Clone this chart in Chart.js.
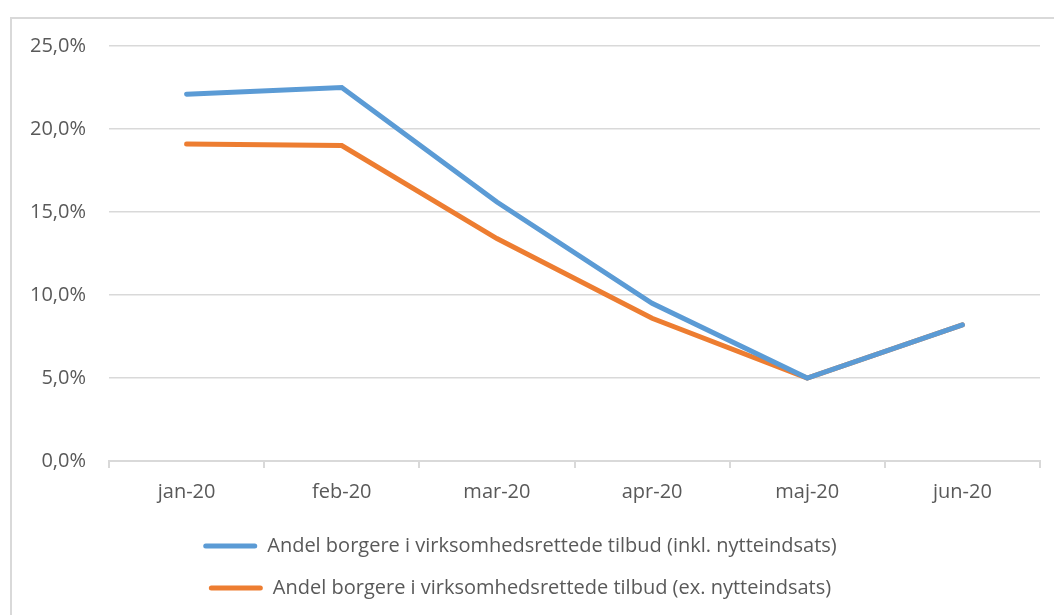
<!DOCTYPE html>
<html>
<head>
<meta charset="utf-8">
<script src="https://cdn.jsdelivr.net/npm/chart.js@4/dist/chart.umd.min.js"></script>
<style>
  html, body { margin: 0; padding: 0; background: #fff; }
  #wrap { position: relative; width: 1054px; height: 615px; overflow: hidden; }
  #frame { position: absolute; left: 10px; top: 17px; width: 1100px; height: 700px; border: 2px solid #d9d9d9; box-sizing: border-box; }
  canvas { position: absolute; left: 0; top: 0; }
</style>
</head>
<body>
<div id="wrap">
  <div id="frame"></div>
  <canvas id="chart" width="1054" height="615"></canvas>
</div>
<script>
// maaneder og andele (i procent)
const maaneder = ['jan-20', 'feb-20', 'mar-20', 'apr-20', 'maj-20', 'jun-20'];
const inklNytte = [22.1, 22.5, 15.6, 9.5, 5.0, 8.2];
const exNytte = [19.1, 19.0, 13.4, 8.6, 5.0, 8.2];
const serieNavne = [
  'Andel borgere i virksomhedsrettede tilbud (inkl. nytteindsats)',
  'Andel borgere i virksomhedsrettede tilbud (ex. nytteindsats)'
];

const tekstFarve = '#595959';
const font = { family: 'Open Sans', size: 20 };

new Chart(document.getElementById('chart'), {
  type: 'line',
  data: {
    labels: maaneder,
    datasets: [
      { label: serieNavne[0], data: inklNytte, borderColor: '#5b9bd5', backgroundColor: '#5b9bd5',
        borderWidth: 5, borderCapStyle: 'round', pointRadius: 0, tension: 0 },
      { label: serieNavne[1], data: exNytte, borderColor: '#ed7d31', backgroundColor: '#ed7d31',
        borderWidth: 5, borderCapStyle: 'round', pointRadius: 0, tension: 0 }
    ]
  },
  options: {
    responsive: false,
    animation: false,
    layout: { padding: { top: 46, right: 14, left: 0, bottom: 7 } },
    plugins: {
      tooltip: { enabled: false },
      legend: {
        position: 'bottom',
        labels: {
          color: tekstFarve, font: font, boxWidth: 54, boxHeight: 5, padding: 22, useBorderRadius: true,
          generateLabels: chart => Chart.defaults.plugins.legend.labels.generateLabels(chart)
            .map(l => Object.assign(l, { lineWidth: 0, borderRadius: 2.5 }))
        }
      }
    },
    scales: {
      x: {
        offset: true,
        afterFit: s => { s.height = 53; },
        grid: { offset: true, drawOnChartArea: false, drawTicks: true, tickLength: 7, color: '#d9d9d9', lineWidth: 2 },
        border: { color: '#d9d9d9', width: 2 },
        ticks: { color: tekstFarve, font: font, padding: 12 }
      },
      y: {
        min: 0, max: 25,
        afterFit: s => { s.width = 109; },
        grid: { drawTicks: false, color: '#d9d9d9', lineWidth: 1.5 },
        border: { display: false },
        ticks: { stepSize: 5, color: tekstFarve, font: font, padding: 23,
          callback: v => v.toFixed(1).replace('.', ',') + '%' }
      }
    }
  }
});
</script>
</body>
</html>
